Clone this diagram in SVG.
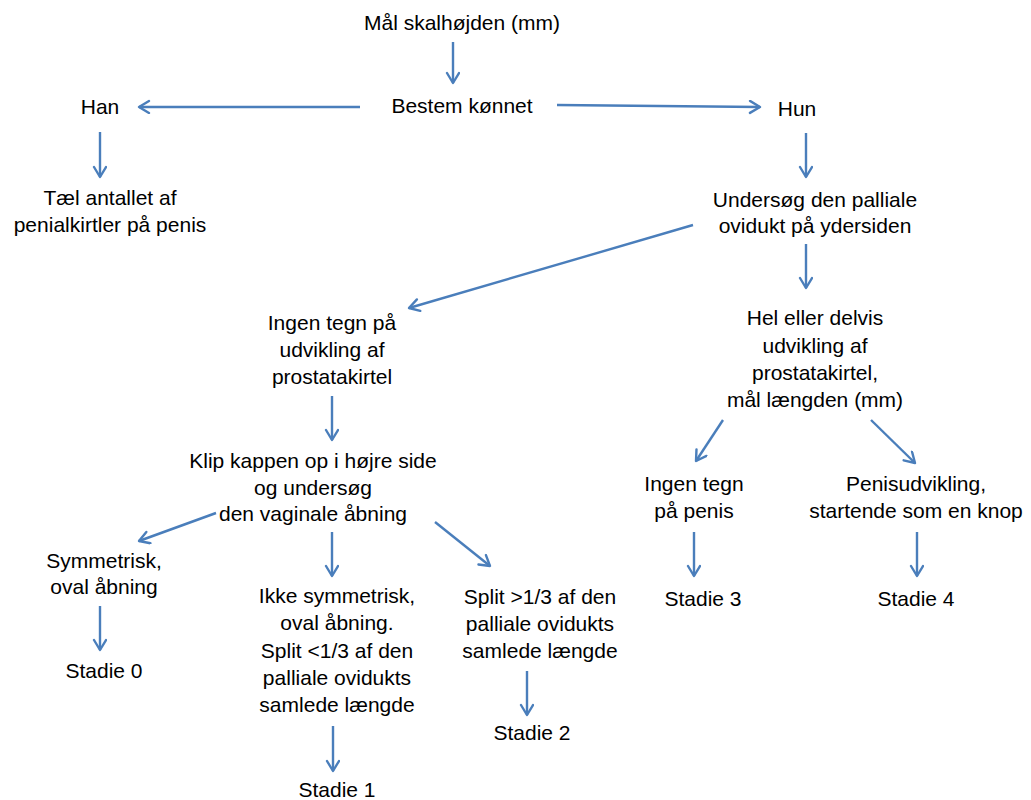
<svg xmlns="http://www.w3.org/2000/svg" width="1031" height="800" viewBox="0 0 1031 800">
<defs>
<marker id="ah" markerUnits="userSpaceOnUse" markerWidth="16" markerHeight="16" refX="12" refY="7" orient="auto">
<path d="M2,1 L12,7 L2,13" fill="none" stroke="#4A7EBB" stroke-width="2.4" stroke-linecap="round" stroke-linejoin="round"/>
</marker>
<style>
text{font-family:"Liberation Sans",Arial,sans-serif;font-size:21px;fill:#000;text-anchor:middle}
.c line{stroke:#4A7EBB;stroke-width:2.4;marker-end:url(#ah)}
</style>
</defs>
<rect width="1031" height="800" fill="#fff"/>
<g class="c" id="connectors">
<line x1="453" y1="42" x2="453" y2="83"/>
<line x1="360" y1="107" x2="139" y2="107"/>
<line x1="557" y1="105" x2="760" y2="107"/>
<line x1="100" y1="132" x2="100" y2="177"/>
<line x1="806" y1="133" x2="806" y2="177"/>
<line x1="693" y1="225" x2="409" y2="308"/>
<line x1="806" y1="244" x2="806" y2="288"/>
<line x1="332" y1="396" x2="332" y2="440"/>
<line x1="723" y1="420" x2="696" y2="461"/>
<line x1="871" y1="420" x2="915" y2="463"/>
<line x1="216" y1="513" x2="139" y2="541"/>
<line x1="332" y1="532" x2="332" y2="576"/>
<line x1="435" y1="522" x2="490" y2="566"/>
<line x1="100" y1="606" x2="100" y2="650"/>
<line x1="694" y1="532" x2="694" y2="576"/>
<line x1="917" y1="532" x2="917" y2="576"/>
<line x1="333" y1="726" x2="333" y2="771"/>
<line x1="527" y1="671" x2="527" y2="715"/>
</g>
<g id="n-mal"><text x="462" y="30">Mål skalhøjden (mm)</text></g>
<g id="n-bestem"><text x="462" y="113">Bestem kønnet</text></g>
<g id="n-han"><text x="100" y="114">Han</text></g>
<g id="n-hun"><text x="797" y="116">Hun</text></g>
<g id="n-tael"><text x="110" y="205">Tæl antallet af</text><text x="110" y="232">penialkirtler på penis</text></g>
<g id="n-undersog"><text x="815" y="207">Undersøg den palliale</text><text x="815" y="233">ovidukt på ydersiden</text></g>
<g id="n-ingen"><text x="332" y="330">Ingen tegn på</text><text x="332" y="357">udvikling af</text><text x="332" y="384">prostatakirtel</text></g>
<g id="n-hel"><text x="815" y="325">Hel eller delvis</text><text x="815" y="353">udvikling af</text><text x="815" y="380">prostatakirtel,</text><text x="815" y="407">mål længden (mm)</text></g>
<g id="n-klip"><text x="313" y="468">Klip kappen op i højre side</text><text x="313" y="495">og undersøg</text><text x="313" y="521">den vaginale åbning</text></g>
<g id="n-ingenpenis"><text x="694" y="491">Ingen tegn</text><text x="694" y="518">på penis</text></g>
<g id="n-penis"><text x="916" y="491">Penisudvikling,</text><text x="916" y="518">startende som en knop</text></g>
<g id="n-sym"><text x="104" y="568">Symmetrisk,</text><text x="104" y="594">oval åbning</text></g>
<g id="n-ikke"><text x="337" y="603">Ikke symmetrisk,</text><text x="337" y="630">oval åbning.</text><text x="337" y="658">Split &lt;1/3 af den</text><text x="337" y="685">palliale ovidukts</text><text x="337" y="712">samlede længde</text></g>
<g id="n-split"><text x="540" y="604">Split &gt;1/3 af den</text><text x="540" y="631">palliale ovidukts</text><text x="540" y="658">samlede længde</text></g>
<g id="n-s3"><text x="703" y="606">Stadie 3</text></g>
<g id="n-s4"><text x="916" y="606">Stadie 4</text></g>
<g id="n-s0"><text x="104" y="678">Stadie 0</text></g>
<g id="n-s2"><text x="532" y="740">Stadie 2</text></g>
<g id="n-s1"><text x="337" y="797">Stadie 1</text></g>
</svg>
